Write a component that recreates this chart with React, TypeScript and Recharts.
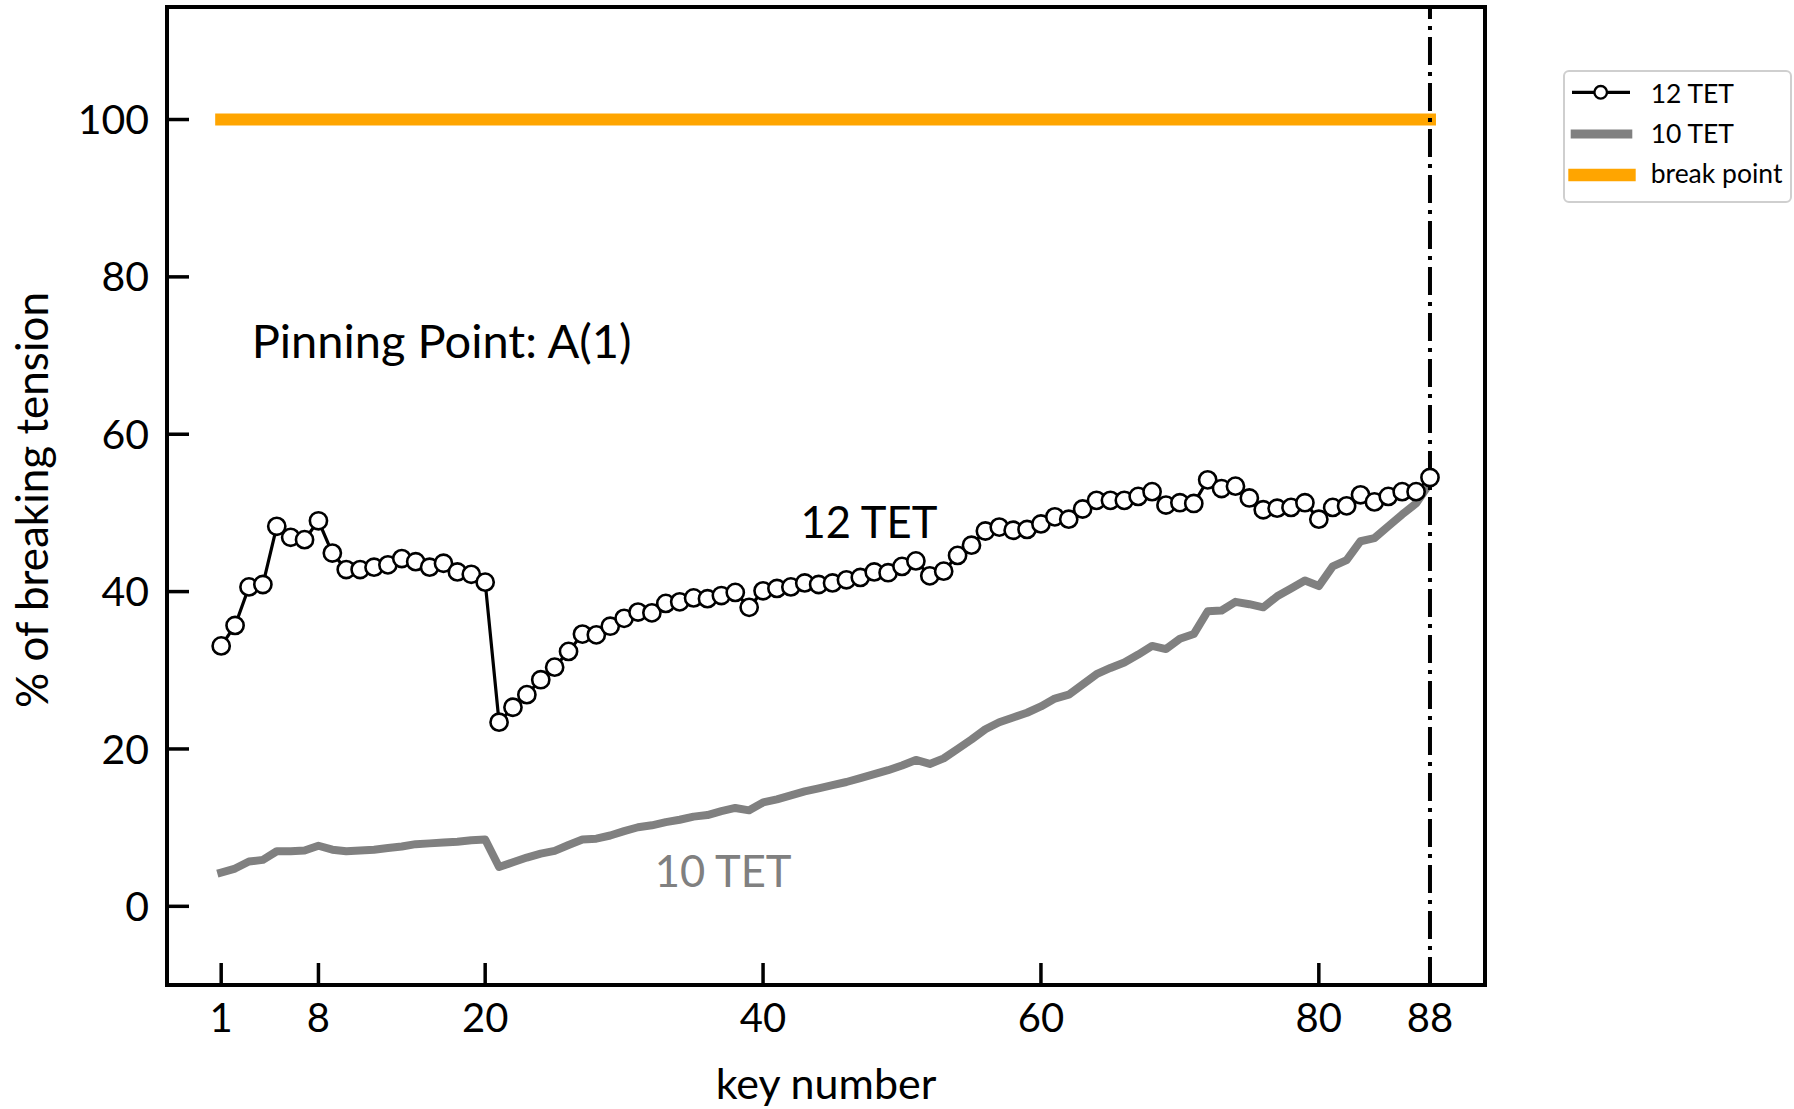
import React from 'react';
import {
  LineChart,
  Line,
  XAxis,
  YAxis,
  ReferenceLine,
  ReferenceArea,
  ReferenceDot,
  Legend,
} from 'recharts';

const FONT = 'Lato, "Open Sans", sans-serif';

// ---- data ----
const keyNumbers = [
  1, 2, 3, 4, 5, 6, 7, 8, 9, 10, 11, 12, 13, 14, 15, 16, 17, 18, 19, 20, 21, 22,
  23, 24, 25, 26, 27, 28, 29, 30, 31, 32, 33, 34, 35, 36, 37, 38, 39, 40, 41, 42,
  43, 44, 45, 46, 47, 48, 49, 50, 51, 52, 53, 54, 55, 56, 57, 58, 59, 60, 61, 62,
  63, 64, 65, 66, 67, 68, 69, 70, 71, 72, 73, 74, 75, 76, 77, 78, 79, 80, 81, 82,
  83, 84, 85, 86, 87, 88,
];

const tet12 = [
  33.1, 35.7, 40.6, 40.9, 48.3, 46.9, 46.6, 49.0, 44.9, 42.8, 42.8, 43.1, 43.4, 44.2,
  43.8, 43.1, 43.6, 42.5, 42.2, 41.2, 23.4, 25.3, 26.9, 28.8, 30.4, 32.4, 34.6, 34.5,
  35.6, 36.6, 37.4, 37.3, 38.5, 38.7, 39.2, 39.1, 39.5, 39.9, 38.0, 40.1, 40.4, 40.6,
  41.1, 40.9, 41.1, 41.5, 41.8, 42.5, 42.4, 43.2, 43.9, 42.0, 42.6, 44.6, 45.9, 47.7,
  48.2, 47.8, 47.9, 48.6, 49.5, 49.2, 50.5, 51.6, 51.6, 51.6, 52.1, 52.7, 51.0, 51.3,
  51.2, 54.2, 53.1, 53.4, 51.9, 50.4, 50.6, 50.7, 51.3, 49.2, 50.7, 50.9, 52.3, 51.4,
  52.1, 52.7, 52.7, 54.5,
];

const tet10 = [
  4.3, 4.8, 5.7, 5.9, 7.0, 7.0, 7.1, 7.7, 7.2, 7.0, 7.1, 7.2, 7.4, 7.6, 7.9, 8.0,
  8.1, 8.2, 8.4, 8.5, 5.0, 5.6, 6.2, 6.7, 7.05, 7.8, 8.5, 8.6, 9.0, 9.55, 10.05, 10.3,
  10.7, 11.0, 11.4, 11.6, 12.1, 12.5, 12.2, 13.2, 13.6, 14.1, 14.6, 15.0, 15.4, 15.8,
  16.3, 16.8, 17.3, 17.9, 18.6, 18.1, 18.8, 20.0, 21.2, 22.5, 23.4, 24.0, 24.6, 25.4,
  26.4, 26.9, 28.2, 29.5, 30.3, 31.0, 32.0, 33.1, 32.7, 34.0, 34.6, 37.5, 37.6, 38.7,
  38.4, 38.0, 39.4, 40.4, 41.4, 40.7, 43.2, 44.0, 46.4, 46.8, 48.3, 49.8, 51.2, 53.8,
];

const breakPointLevel = 100;
const lastKey = 88;

const xTicks = [1, 8, 20, 40, 60, 80, 88];
const yTicks = [0, 20, 40, 60, 80, 100];
const xDomain: [number, number] = [-2.9, 91.96];
const yDomain: [number, number] = [-10, 114.3];

const seriesNames = ['12 TET', '10 TET', 'break point'];

const data = keyNumbers.map((k, i) => ({
  key: k,
  tet12: tet12[i],
  tet10: tet10[i],
  brk: breakPointLevel,
}));

// ---- styling ----
const BLACK = '#000000';
const GRAY = '#808080';
const ORANGE = '#FFA500';

const tickLineStyle = { stroke: BLACK, strokeWidth: 3.5 };

const makeTextLabel =
  (text: string, fontSize: number, fill: string) => (props: any) => {
    const vb = props.viewBox || {};
    return (
      <text
        x={vb.x}
        y={vb.y}
        fontSize={fontSize}
        fill={fill}
        fontFamily={FONT}
        textAnchor="start"
      >
        {text}
      </text>
    );
  };

const XTitle = (props: any) => {
  const vb = props.viewBox || {};
  return (
    <text
      x={vb.x + vb.width / 2}
      y={vb.y + vb.height - 10}
      textAnchor="middle"
      fontSize={43}
      fontFamily={FONT}
      fill={BLACK}
    >
      key number
    </text>
  );
};

const YTitle = (props: any) => {
  const vb = props.viewBox || {};
  const cx = 48;
  const cy = vb.y + vb.height / 2 + 4;
  return (
    <text
      x={cx}
      y={cy}
      transform={`rotate(-90, ${cx}, ${cy})`}
      textAnchor="middle"
      fontSize={44}
      fontFamily={FONT}
      fill={BLACK}
    >
      % of breaking tension
    </text>
  );
};

const LegendContent = () => (
  <div
    style={{
      width: 229,
      height: 133,
      boxSizing: 'border-box',
      border: '2.7px solid #cfcfcf',
      borderRadius: 6,
      background: '#ffffff',
      position: 'relative',
      fontFamily: FONT,
    }}
  >
    <svg
      width={229}
      height={133}
      style={{ position: 'absolute', left: -2.7, top: -2.7, overflow: 'visible' }}
    >
      <line x1={10} x2={68} y1={23.3} y2={23.3} stroke={BLACK} strokeWidth={3.2} />
      <circle cx={38.7} cy={23.3} r={6.3} fill="#fff" stroke={BLACK} strokeWidth={2.4} />
      <text x={88.7} y={34.3} fontSize={26.5} fill={BLACK} fontFamily={FONT}>
        {seriesNames[0]}
      </text>
      <line x1={8.7} x2={70.3} y1={65} y2={65} stroke={GRAY} strokeWidth={9} />
      <text x={88.7} y={74.3} fontSize={26.5} fill={BLACK} fontFamily={FONT}>
        {seriesNames[1]}
      </text>
      <line x1={6.3} x2={73.7} y1={106} y2={106} stroke={ORANGE} strokeWidth={12.5} />
      <text x={88.7} y={114.3} fontSize={26.5} fill={BLACK} fontFamily={FONT}>
        {seriesNames[2]}
      </text>
    </svg>
  </div>
);

export default function App() {
  return (
    <div
      style={{
        position: 'absolute',
        left: 0,
        top: 0,
        width: 1794,
        height: 1109,
        background: '#ffffff',
        fontFamily: FONT,
      }}
    >
      <LineChart
        width={1794}
        height={1109}
        data={data}
        margin={{ top: 7, right: 309, bottom: 0, left: 0 }}
      >
        <XAxis
          xAxisId="b"
          dataKey="key"
          type="number"
          orientation="bottom"
          domain={xDomain}
          ticks={xTicks}
          interval={0}
          allowDataOverflow
          height={124}
          axisLine={false}
          tickSize={-22}
          tickMargin={41}
          tickLine={tickLineStyle}
          tick={{ fill: BLACK, fontSize: 40, fontFamily: FONT }}
          label={{ content: XTitle }}
        />
        <XAxis
          xAxisId="t"
          dataKey="key"
          type="number"
          orientation="top"
          domain={xDomain}
          ticks={xTicks}
          interval={0}
          allowDataOverflow
          height={0}
          axisLine={false}
          tickSize={-22}
          tickLine={tickLineStyle}
          tick={false}
        />
        <YAxis
          yAxisId="l"
          type="number"
          orientation="left"
          domain={yDomain}
          ticks={yTicks}
          interval={0}
          allowDataOverflow
          width={167}
          axisLine={false}
          tickSize={-22}
          tickMargin={40}
          tickLine={tickLineStyle}
          tick={{ fill: BLACK, fontSize: 41, fontFamily: FONT }}
          label={{ content: YTitle }}
        />
        <YAxis
          yAxisId="r"
          type="number"
          orientation="right"
          domain={yDomain}
          ticks={yTicks}
          interval={0}
          allowDataOverflow
          width={0}
          axisLine={false}
          tickSize={-22}
          tickLine={tickLineStyle}
          tick={false}
        />

        <Line
          xAxisId="b"
          yAxisId="l"
          name={seriesNames[0]}
          dataKey="tet12"
          type="linear"
          stroke={BLACK}
          strokeWidth={3.2}
          dot={{ r: 8.6, fill: '#ffffff', stroke: BLACK, strokeWidth: 2.6 }}
          activeDot={false}
          isAnimationActive={false}
        />
        <Line
          xAxisId="b"
          yAxisId="l"
          name={seriesNames[1]}
          dataKey="tet10"
          type="linear"
          stroke={GRAY}
          strokeWidth={8}
          strokeLinecap="square"
          strokeLinejoin="round"
          dot={false}
          activeDot={false}
          isAnimationActive={false}
        />
        <Line
          xAxisId="b"
          yAxisId="l"
          name={seriesNames[2]}
          dataKey="brk"
          type="linear"
          stroke={ORANGE}
          strokeWidth={12}
          strokeLinecap="square"
          dot={false}
          activeDot={false}
          isAnimationActive={false}
        />

        <ReferenceLine
          xAxisId="b"
          yAxisId="l"
          x={lastKey}
          stroke={BLACK}
          strokeWidth={4}
          strokeDasharray="28 7 4 7"
        />

        <ReferenceDot
          xAxisId="b"
          yAxisId="l"
          x={3.2}
          y={69.7}
          r={0}
          fill="none"
          stroke="none"
          label={{ content: makeTextLabel('Pinning Point: A(1)', 47, BLACK) }}
        />
        <ReferenceDot
          xAxisId="b"
          yAxisId="l"
          x={42.7}
          y={46.8}
          r={0}
          fill="none"
          stroke="none"
          label={{ content: makeTextLabel('12 TET', 43.5, BLACK) }}
        />
        <ReferenceDot
          xAxisId="b"
          yAxisId="l"
          x={32.2}
          y={2.45}
          r={0}
          fill="none"
          stroke="none"
          label={{ content: makeTextLabel('10 TET', 43.5, GRAY) }}
        />

        <ReferenceArea
          xAxisId="b"
          yAxisId="l"
          x1={xDomain[0]}
          x2={xDomain[1]}
          y1={yDomain[0]}
          y2={yDomain[1]}
          fill="none"
          fillOpacity={0}
          stroke={BLACK}
          strokeWidth={4}
          ifOverflow="visible"
        />

        <Legend
          layout="vertical"
          align="center"
          verticalAlign="middle"
          wrapperStyle={{ left: 1563, top: 70, width: 229, height: 133 }}
          content={LegendContent}
        />
      </LineChart>
    </div>
  );
}
